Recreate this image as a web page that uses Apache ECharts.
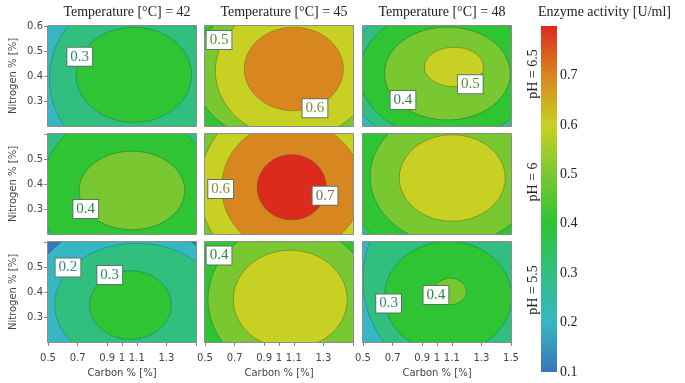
<!DOCTYPE html>
<html>
<head>
<meta charset="utf-8">
<script src="https://cdn.jsdelivr.net/npm/echarts@6/dist/echarts.min.js"></script>
<style>
  html, body { margin: 0; padding: 0; background: #fff; }
  #chart { width: 685px; height: 383px; }
</style>
</head>
<body>
<div id="chart"></div>
<script>
var temps = [42, 45, 48];
var phs = ['6.5', '6', '5.5'];
var carbonTicks = [0.5, 0.7, 0.9, 1, 1.1, 1.3, 1.5];
var nitrogenTicks = [0.3, 0.4, 0.5, 0.6];
var barTicks = [0.1, 0.2, 0.3, 0.4, 0.5, 0.6, 0.7];
var barLevels = [0.1, 0.2, 0.3, 0.4, 0.5, 0.6, 0.7, 0.8];

// colour of each band, keyed by its upper level
var bandColors = ['#3a74b9', '#37b7c1', '#31bf80', '#2ec434', '#79c831', '#c9d024', '#d8861f', '#dc2b1e'];
var lineColors = ['#2f6690', '#2a8c8c', '#2a8a55', '#2f8a30', '#6c8c22', '#8c8020', '#8c4a1c'];
var textColors = ['#2f6690', '#2a8a96', '#2a8a6a', '#2a8a3c', '#5a8c2a', '#8c8a2c', '#8c6a3c'];

// contour ellipses: [level, carbon centre, nitrogen centre, carbon radius, nitrogen radius]
var t42ph65 = [[0.2, 1.06, 0.39, 0.55, 0.33], [0.3, 1.08, 0.405, 0.39, 0.19]];
var t45ph65 = [[0.4, 1.10, 0.42, 0.68, 0.30], [0.5, 1.10, 0.42, 0.53, 0.271], [0.6, 1.10, 0.428, 0.334, 0.167]];
var t48ph65 = [[0.2, 1.07, 0.41, 0.684, 0.30], [0.3, 1.07, 0.41, 0.594, 0.261], [0.4, 1.07, 0.41, 0.425, 0.186], [0.5, 1.115, 0.436, 0.20, 0.079]];
var t42ph6 = [[0.3, 1.03, 0.36, 0.58, 0.336], [0.4, 1.067, 0.374, 0.357, 0.157]];
var t45ph6 = [[0.5, 1.086, 0.387, 0.625, 0.357], [0.6, 1.086, 0.387, 0.473, 0.264], [0.7, 1.086, 0.387, 0.232, 0.13]];
var t48ph6 = [[0.3, 1.10, 0.43, 0.719, 0.352], [0.4, 1.103, 0.43, 0.555, 0.272], [0.5, 1.103, 0.424, 0.358, 0.173]];
var t42ph55 = [[0.1, 1.03, 0.35, 0.667, 0.333], [0.2, 1.10, 0.35, 0.555, 0.245], [0.3, 1.057, 0.348, 0.276, 0.137]];
var t45ph55 = [[0.4, 1.07, 0.37, 0.55, 0.298], [0.5, 1.076, 0.37, 0.385, 0.197]];
var t48ph55 = [[0.2, 1.07, 0.45, 0.57, 0.38], [0.3, 1.075, 0.38, 0.43, 0.222], [0.4, 1.09, 0.402, 0.108, 0.053]];

// contour labels: [carbon, nitrogen, level]
var lab42ph65 = [[0.714, 0.477, 0.3]];
var lab45ph65 = [[0.595, 0.544, 0.5], [1.243, 0.271, 0.6]];
var lab48ph65 = [[0.77, 0.304, 0.4], [1.225, 0.367, 0.5]];
var lab42ph6 = [[0.755, 0.30, 0.4]];
var lab45ph6 = [[0.606, 0.38, 0.6], [1.311, 0.353, 0.7]];
var lab48ph6 = [];
var lab42ph55 = [[0.635, 0.498, 0.2], [0.917, 0.468, 0.3]];
var lab45ph55 = [[0.595, 0.546, 0.4]];
var lab48ph55 = [[0.673, 0.354, 0.3], [0.993, 0.388, 0.4]];

var contours = [t42ph65, t45ph65, t48ph65, t42ph6, t45ph6, t48ph6, t42ph55, t45ph55, t48ph55];
var contourLabels = [lab42ph65, lab45ph65, lab48ph65, lab42ph6, lab45ph6, lab48ph6, lab42ph55, lab45ph55, lab48ph55];

var colLeft = [48, 205, 363];
var rowTop = [26, 134, 242];
var panelW = 148, panelH = 100;

function lvIdx(v) { return Math.round(v * 10) - 1; }

var myChart = echarts.init(document.getElementById('chart'));

function renderContour(params, api) {
    var lv = api.value(0), cx = api.value(1), cy = api.value(2), rx = api.value(3), ry = api.value(4);
    var pts = [];
    for (var k = 0; k < 120; k++) {
        var t = k / 120 * Math.PI * 2;
        pts.push(api.coord([cx + rx * Math.cos(t), cy + ry * Math.sin(t)]));
    }
    var children = [];
    if (params.dataIndex === 0) {
        var cs = params.coordSys;
        children.push({ type: 'rect', shape: { x: cs.x, y: cs.y, width: cs.width, height: cs.height },
            style: { fill: bandColors[lvIdx(lv)] } });
    }
    children.push({ type: 'polygon', shape: { points: pts },
        style: { fill: bandColors[lvIdx(lv) + 1], stroke: lineColors[lvIdx(lv)], lineWidth: 0.8 } });
    return { type: 'group', children: children };
}

// contour label boxes
function renderLabel(params, api) {
    var p = api.coord([api.value(0), api.value(1)]);
    var lv = api.value(2);
    return {
        type: 'text', x: p[0], y: p[1], z2: 50,
        style: {
            text: lv.toFixed(1), font: '15px "Liberation Serif"', fill: textColors[lvIdx(lv)],
            align: 'center', verticalAlign: 'middle',
            backgroundColor: '#fff', borderColor: '#557a60', borderWidth: 1, padding: [2, 3, 1, 3]
        }
    };
}

var grids = [], xAxes = [], yAxes = [], series = [], graphics = [];

for (var i = 0; i < 9; i++) {
    var r = Math.floor(i / 3), c = i % 3;
    grids.push({ left: colLeft[c], top: rowTop[r], width: panelW, height: panelH, containLabel: false });
    xAxes.push({
        gridIndex: i, type: 'value', min: 0.5, max: 1.5,
        name: r === 2 ? 'Carbon % [%]' : '', nameLocation: 'middle', nameGap: 26,
        nameTextStyle: { fontFamily: 'DejaVu Sans', fontSize: 10, color: '#444' },
        axisLine: { show: false }, splitLine: { show: false },
        axisTick: { show: r === 2, customValues: carbonTicks, length: 4, lineStyle: { color: '#888' } },
        axisLabel: { show: r === 2, customValues: c === 2 ? carbonTicks : carbonTicks.slice(0, 6),
            fontFamily: 'DejaVu Sans', fontSize: 10, color: '#444', margin: 11 }
    });
    yAxes.push({
        gridIndex: i, type: 'value', min: 0.2, max: 0.6,
        name: c === 0 ? 'Nitrogen % [%]' : '', nameLocation: 'middle', nameGap: 30,
        nameTextStyle: { fontFamily: 'DejaVu Sans', fontSize: 10, color: '#444' },
        axisLine: { show: false }, splitLine: { show: false },
        axisTick: { show: c === 0, customValues: nitrogenTicks, length: 4, lineStyle: { color: '#888' } },
        axisLabel: { show: c === 0, customValues: r === 0 ? nitrogenTicks : nitrogenTicks.slice(0, 3),
            fontFamily: 'DejaVu Sans', fontSize: 10, color: '#444', margin: 5 }
    });
    series.push({
        type: 'custom', xAxisIndex: i, yAxisIndex: i, clip: true, z: 2,
        renderItem: renderContour, data: contours[i], silent: true
    });
    series.push({
        type: 'custom', xAxisIndex: i, yAxisIndex: i, z: 5, silent: true,
        renderItem: renderLabel, data: contourLabels[i]
    });
    graphics.push({
        type: 'rect', z: 10, silent: true,
        shape: { x: colLeft[c] - 0.5, y: rowTop[r] - 0.5, width: panelW + 1, height: panelH + 1 },
        style: { fill: 'none', stroke: '#8c8c8c', lineWidth: 1 }
    });
}

// colour bar
grids.push({ left: 541, top: 26, width: 16, height: 346 });
xAxes.push({ gridIndex: 9, type: 'value', min: 0, max: 1, show: false });
yAxes.push({
    gridIndex: 9, type: 'value', min: 0.1, max: 0.8, position: 'right',
    axisLine: { show: false }, axisTick: { show: false }, splitLine: { show: false },
    axisLabel: { customValues: barTicks, fontFamily: 'Liberation Serif', fontSize: 14, color: '#222', margin: 3,
        formatter: function (v) { return v.toFixed(1); } }
});
series.push({
    type: 'custom', xAxisIndex: 9, yAxisIndex: 9, silent: true, data: [[0]],
    renderItem: function (params, api) {
        var p0 = api.coord([0, barLevels[barLevels.length - 1]]);
        var p1 = api.coord([1, barLevels[0]]);
        var stops = barLevels.map(function (v, k) {
            return { offset: (v - barLevels[0]) / (barLevels[barLevels.length - 1] - barLevels[0]), color: bandColors[k] };
        });
        return { type: 'rect', shape: { x: p0[0], y: p0[1], width: p1[0] - p0[0], height: p1[1] - p0[1] },
            style: { fill: { type: 'linear', x: 0, y: 1, x2: 0, y2: 0, colorStops: stops } } };
    }
});

for (var c2 = 0; c2 < 3; c2++) {
    graphics.push({ type: 'text', x: colLeft[c2] + panelW / 2 + 5, y: 12, silent: true,
        style: { text: 'Temperature [°C] = ' + temps[c2], font: '14px "Liberation Serif"', fill: '#222',
            textAlign: 'center', textVerticalAlign: 'middle' } });
}
for (var r2 = 0; r2 < 3; r2++) {
    graphics.push({ type: 'text', x: 533, y: rowTop[r2] + panelH / 2 - 2, rotation: Math.PI / 2, silent: true,
        style: { text: 'pH = ' + phs[r2], font: '14px "Liberation Serif"', fill: '#222',
            textAlign: 'center', textVerticalAlign: 'middle' } });
}
graphics.push({ type: 'text', x: 538, y: 12, silent: true,
    style: { text: 'Enzyme activity [U/ml]', font: '14px "Liberation Serif"', fill: '#222',
        textAlign: 'left', textVerticalAlign: 'middle' } });

myChart.setOption({
    animation: false,
    grid: grids,
    xAxis: xAxes,
    yAxis: yAxes,
    series: series,
    graphic: graphics
});
</script>
</body>
</html>
